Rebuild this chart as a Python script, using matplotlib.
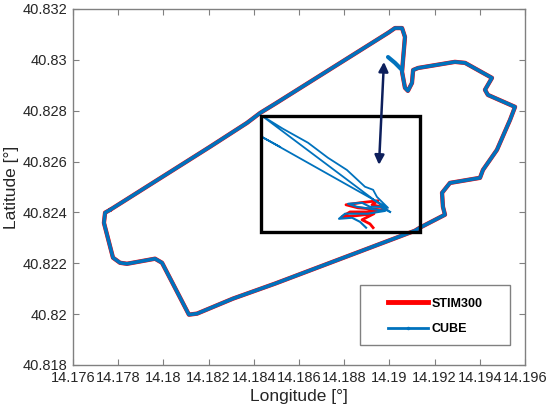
import numpy as np
import matplotlib
matplotlib.use("Agg")
import matplotlib.pyplot as plt
from matplotlib.patches import Rectangle
from matplotlib.lines import Line2D

plt.rcParams['font.family'] = ['Liberation Sans', 'DejaVu Sans']

# Main loop trajectory (both sensors overlap)
loop_lon = [14.17764, 14.18206, 14.18370, 14.18428, 14.18494, 14.18994, 14.19025, 14.19056,
            14.19069, 14.19056, 14.19069, 14.19082, 14.19100, 14.19105, 14.19127, 14.19290,
            14.19335, 14.19454, 14.19423, 14.19436, 14.19556, 14.19534, 14.19476, 14.19414,
            14.19401, 14.19268, 14.19233, 14.19237, 14.19246, 14.19135, 14.19113, 14.18494,
            14.18308, 14.18149, 14.18113, 14.17994, 14.17963, 14.17839, 14.17808, 14.17777,
            14.17737, 14.17742, 14.17764]
loop_lat = [40.82410, 40.82658, 40.82752, 40.82791, 40.82827, 40.83106, 40.83125, 40.83125,
            40.83090, 40.82953, 40.82890, 40.82878, 40.82909, 40.82960, 40.82968, 40.82992,
            40.82988, 40.82929, 40.82882, 40.82862, 40.82815, 40.82764, 40.82646, 40.82567,
            40.82536, 40.82516, 40.82477, 40.82422, 40.82391, 40.82340, 40.82328, 40.82120,
            40.82061, 40.82002, 40.81998, 40.82202, 40.82218, 40.82198, 40.82202, 40.82222,
            40.82359, 40.82399, 40.82410]

# STIM300 jitter while stationary
stim_lon = [14.18985, 14.18923, 14.18950, 14.18870, 14.18808, 14.18861, 14.18967, 14.18897,
            14.18826, 14.18790, 14.18852, 14.18932, 14.18879, 14.18914, 14.18928]
stim_lat = [40.82418, 40.82430, 40.82446, 40.82438, 40.82430, 40.82418, 40.82410, 40.82402,
            40.82402, 40.82383, 40.82387, 40.82395, 40.82371, 40.82355, 40.82340]

# CUBE jitter while stationary
cube_lon = [14.19003, 14.18959, 14.18914, 14.18879, 14.18817, 14.18857, 14.18981, 14.18905,
            14.18804, 14.18777, 14.18835, 14.18870, 14.18897]
cube_lat = [40.82402, 40.82422, 40.82422, 40.82438, 40.82434, 40.82422, 40.82406, 40.82395,
            40.82395, 40.82375, 40.82379, 40.82363, 40.82340]

# CUBE outlier spikes inside the box
spike_lon = [14.19003, 14.18436, 14.18529, 14.18640, 14.18728, 14.18812, 14.18892, 14.18928,
             14.18945, 14.18994, 14.18436, 14.18516]
spike_lat = [40.82402, 40.82780, 40.82729, 40.82674, 40.82615, 40.82567, 40.82501, 40.82489,
             40.82461, 40.82418, 40.82697, 40.82658]

# CUBE short offset segment near the top
seg_lon = [14.18994, 14.19025, 14.19056]
seg_lat = [40.83011, 40.82988, 40.82960]

# Zoom box and arrow
box_lon = [14.18432, 14.19135]
box_lat = [40.82324, 40.82780]
arrow_lon = [14.18976, 14.18954]
arrow_lat = [40.82992, 40.82587]

RED = '#ff0000'
BLUE = '#0072bd'

fig = plt.figure(figsize=(5.5, 4.16), dpi=100)
ax = fig.add_axes([0.1327, 0.1226, 0.8218, 0.8558])

ax.plot(loop_lon, loop_lat, color=RED, lw=3.1, solid_joinstyle='round', solid_capstyle='round', zorder=2)
ax.plot(stim_lon, stim_lat, color=RED, lw=2.0, solid_joinstyle='round', zorder=3)
ax.plot(loop_lon, loop_lat, color=BLUE, lw=2.6, solid_joinstyle='round', solid_capstyle='round', zorder=4)
ax.plot(cube_lon, cube_lat, color=BLUE, lw=1.5, solid_joinstyle='round', zorder=4)
ax.plot(spike_lon, spike_lat, color=BLUE, lw=1.3, solid_joinstyle='round', zorder=4)
ax.plot(seg_lon, seg_lat, color=BLUE, lw=3.0, solid_capstyle='round', zorder=4)

ax.add_patch(Rectangle((box_lon[0], box_lat[0]), box_lon[1] - box_lon[0], box_lat[1] - box_lat[0],
                       fill=False, edgecolor='black', lw=2.4, zorder=5))

ax.annotate('', xy=(arrow_lon[0], arrow_lat[0]), xytext=(arrow_lon[1], arrow_lat[1]),
            arrowprops=dict(arrowstyle='<|-|>', color='#0d1f5c', lw=1.8,
                            mutation_scale=14, shrinkA=0, shrinkB=0), zorder=6)

ax.set_xlim(14.176, 14.196)
ax.set_ylim(40.818, 40.832)
xt = np.round(np.arange(14.176, 14.1961, 0.002), 3)
yt = np.round(np.arange(40.818, 40.8321, 0.002), 3)
ax.set_xticks(xt)
ax.set_xticklabels([('%.3f' % v).rstrip('0').rstrip('.') for v in xt])
ax.set_yticks(yt)
ax.set_yticklabels([('%.3f' % v).rstrip('0').rstrip('.') for v in yt])
ax.tick_params(direction='in', top=True, right=True, length=4, width=0.8,
               color='#808080', labelsize=10.5, labelcolor='#262626', pad=4)
for s in ax.spines.values():
    s.set_color('#808080')
    s.set_linewidth(1.0)

ax.set_xlabel('Longitude [°]', fontsize=12.5, color='#262626', labelpad=3)
ax.set_ylabel('Latitude [°]', fontsize=12.5, color='#262626', labelpad=3)

# Legend frame drawn separately, entries placed inside
ax.add_patch(Rectangle((0.635, 0.0562), 0.332, 0.1685, transform=ax.transAxes,
                       fill=True, facecolor='white', edgecolor='#808080', lw=1.0, zorder=7))
handles = [Line2D([], [], color=RED, lw=3.5),
           Line2D([], [], color=BLUE, lw=2.0, marker='.', markersize=3)]
leg = ax.legend(handles, ['STIM300', 'CUBE'], loc='center left',
                bbox_to_anchor=(0.697, 0.136), borderpad=0.0, borderaxespad=0.0,
                prop={'weight': 'bold', 'size': 9}, handlelength=3.2, labelspacing=1.1,
                handletextpad=0.3, frameon=False)
leg.set_zorder(8)
for t in leg.get_texts():
    t.set_color('black')

fig.savefig('out.png', dpi=100)
